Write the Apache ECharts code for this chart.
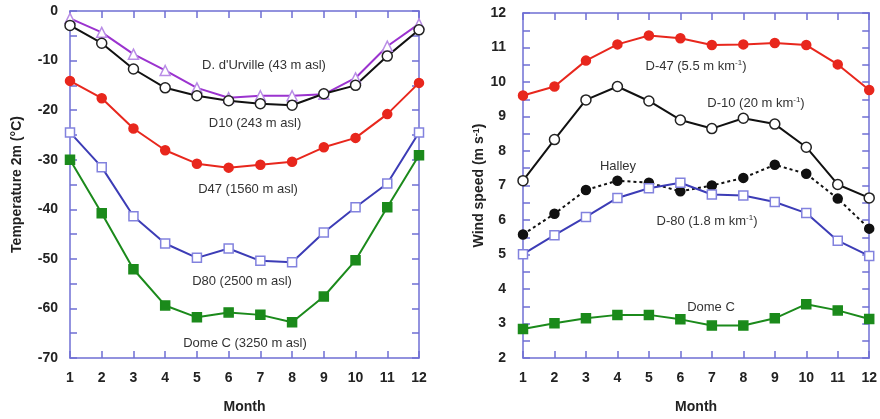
<!DOCTYPE html>
<html>
<head>
<meta charset="utf-8">
<script src="https://cdn.jsdelivr.net/npm/echarts@6/dist/echarts.min.js"></script>
<style>
  html, body { margin: 0; padding: 0; background: #fff; }
  #chart { width: 880px; height: 419px; }
</style>
</head>
<body>
<div id="chart"></div>
<script>
// Months on the horizontal axis of both panels
const months = [1, 2, 3, 4, 5, 6, 7, 8, 9, 10, 11, 12];

// Monthly mean 2 m temperature (°C)
const tempDdUrville = [-1.5, -4.3, -8.7, -12.0, -15.5, -17.5, -17.1, -17.1, -16.8, -13.5, -7.1, -2.6];
const tempD10       = [-2.9, -6.5, -11.7, -15.5, -17.1, -18.1, -18.7, -19.0, -16.7, -15.0, -9.1, -3.8];
const tempD47       = [-14.1, -17.6, -23.7, -28.1, -30.8, -31.6, -31.0, -30.4, -27.5, -25.6, -20.8, -14.5];
const tempD80       = [-24.5, -31.5, -41.4, -46.9, -49.8, -47.9, -50.4, -50.7, -44.7, -39.6, -34.8, -24.5];
const tempDomeC     = [-30.0, -40.8, -52.1, -59.4, -61.8, -60.8, -61.3, -62.8, -57.6, -50.3, -39.6, -29.1];

// Monthly mean wind speed (m s-1)
const windD47    = [9.61, 9.87, 10.62, 11.09, 11.35, 11.27, 11.07, 11.09, 11.13, 11.07, 10.51, 9.77];
const windD10    = [7.14, 8.33, 9.48, 9.87, 9.45, 8.90, 8.65, 8.95, 8.78, 8.11, 7.03, 6.64];
const windHalley = [5.58, 6.18, 6.87, 7.14, 7.08, 6.83, 7.00, 7.22, 7.60, 7.34, 6.62, 5.75];
const windD80    = [5.01, 5.56, 6.09, 6.64, 6.92, 7.08, 6.74, 6.71, 6.52, 6.20, 5.40, 4.96];
const windDomeC  = [2.84, 3.01, 3.15, 3.25, 3.25, 3.12, 2.94, 2.94, 3.15, 3.56, 3.38, 3.13];

const frame = '#6f6fd4';
const labelFont = 'Liberation Sans, Arial, sans-serif';

const pairs = vals => months.map((m, i) => [m, vals[i]]);

const tickStyle = { show: true, inside: true, length: 7, lineStyle: { color: frame, width: 1.5 } };
const lineAxis = { show: true, onZero: false, lineStyle: { color: frame, width: 1.5 } };
const boldLabel = { fontFamily: labelFont, fontWeight: 'bold', fontSize: 14, color: '#222' };

function xAxes(gridIndex) {
  return [
    {
      gridIndex, type: 'value', min: 1, max: 12, interval: 1, position: 'bottom',
      axisLine: lineAxis, axisTick: tickStyle, splitLine: { show: false },
      axisLabel: Object.assign({ margin: 13 }, boldLabel),
      name: 'Month', nameLocation: 'middle', nameGap: 42,
      nameTextStyle: { fontFamily: labelFont, fontWeight: 'bold', fontSize: 14, color: '#222' }
    },
    {
      gridIndex, type: 'value', min: 1, max: 12, interval: 1, position: 'top',
      axisLine: lineAxis, axisTick: tickStyle, splitLine: { show: false },
      axisLabel: { show: false }
    }
  ];
}

function yAxes(gridIndex, min, max, interval, margin, name, nameGap) {
  return [
    {
      gridIndex, type: 'value', min, max, interval, position: 'left',
      axisLine: lineAxis, axisTick: tickStyle,
      minorTick: { show: true, splitNumber: 2, length: 7, lineStyle: { color: frame, width: 1.5 } },
      splitLine: { show: false }, minorSplitLine: { show: false },
      axisLabel: Object.assign({ margin }, boldLabel),
      name, nameLocation: 'middle', nameGap, nameRotate: 90,
      nameTextStyle: {
        fontFamily: labelFont, fontWeight: 'bold', fontSize: 14, color: '#222',
        rich: {
          b: { fontFamily: labelFont, fontWeight: 'bold', fontSize: 14, color: '#222' },
          s: { fontFamily: labelFont, fontWeight: 'bold', fontSize: 9, color: '#222', verticalAlign: 'top', padding: [0, 0, 6, 0] }
        }
      }
    },
    {
      gridIndex, type: 'value', min, max, interval, position: 'right',
      axisLine: lineAxis, axisTick: tickStyle,
      minorTick: { show: true, splitNumber: 2, length: 7, lineStyle: { color: frame, width: 1.5 } },
      splitLine: { show: false }, minorSplitLine: { show: false },
      axisLabel: { show: false }
    }
  ];
}

function series(name, vals, axisIdx, opts) {
  return {
    name, type: 'line', data: pairs(vals),
    xAxisIndex: axisIdx, yAxisIndex: axisIdx,
    symbol: opts.symbol, symbolSize: opts.size || 10, showSymbol: true,
    lineStyle: { color: opts.line, width: 2, type: opts.dash || 'solid' },
    itemStyle: { color: opts.fill, borderColor: opts.border, borderWidth: opts.bw === undefined ? 1.5 : opts.bw },
    emphasis: { disabled: true }, animation: false, z: opts.z || 2
  };
}

const red = '#e8271d', purple = '#9b33cf', blue = '#3c3cb6', green = '#1b8a1b', black = '#111';

const option = {
  backgroundColor: '#fff',
  animation: false,
  grid: [
    { left: 70, top: 11, width: 349, height: 349 },
    { left: 523, top: 13, width: 348, height: 347 }
  ],
  xAxis: [...xAxes(0), ...xAxes(1)],
  yAxis: [
    ...yAxes(0, -70, 0, 10, 12, 'Temperature 2m (°C)', 46),
    ...yAxes(1, 2, 12, 1, 17, '{b|Wind speed (m s}{s|-1}{b|)}', 34)
  ],
  series: [
    series("D. d'Urville", tempDdUrville, 0, { symbol: 'triangle', line: purple, fill: '#fff', border: '#b98de6', size: 10 }),
    series('D10', tempD10, 0, { symbol: 'circle', line: black, fill: '#fff', border: '#222', size: 10 }),
    series('D47', tempD47, 0, { symbol: 'circle', line: red, fill: red, border: red, size: 9 }),
    series('D80', tempD80, 0, { symbol: 'rect', line: blue, fill: '#fff', border: '#8282de', size: 9 }),
    series('Dome C', tempDomeC, 0, { symbol: 'rect', line: green, fill: green, border: green, size: 9 }),

    series('D-47', windD47, 2, { symbol: 'circle', line: red, fill: red, border: red, size: 9 }),
    series('D-10', windD10, 2, { symbol: 'circle', line: black, fill: '#fff', border: '#222', size: 10 }),
    series('Halley', windHalley, 2, { symbol: 'circle', line: black, fill: black, border: black, size: 9, dash: [3, 3] }),
    series('D-80', windD80, 2, { symbol: 'rect', line: blue, fill: '#fff', border: '#8282de', size: 9 }),
    series('Dome C wind', windDomeC, 2, { symbol: 'rect', line: green, fill: green, border: green, size: 9 })
  ],
  graphic: []
};

// Station annotations inside the panels
const note = (x, y, text) => ({
  type: 'text', x, y, silent: true,
  style: {
    text, align: 'center', verticalAlign: 'middle',
    font: '13px ' + labelFont, fill: '#333',
    rich: {
      a: { fontFamily: labelFont, fontSize: 13, color: '#333' },
      s: { fontFamily: labelFont, fontSize: 8, color: '#333', verticalAlign: 'top', padding: [0, 0, 6, 0] }
    }
  }
});
option.graphic = [
  note(264, 65, "D. d'Urville (43 m asl)"),
  note(255, 123, 'D10 (243 m asl)'),
  note(248, 189, 'D47 (1560 m asl)'),
  note(242, 281, 'D80 (2500 m asl)'),
  note(245, 343, 'Dome C (3250 m asl)'),
  note(696, 66, '{a|D-47 (5.5 m km}{s|-1}{a|)}'),
  note(756, 103, '{a|D-10 (20 m km}{s|-1}{a|)}'),
  note(618, 166, 'Halley'),
  note(707, 221, '{a|D-80 (1.8 m km}{s|-1}{a|)}'),
  note(711, 307, 'Dome C')
];

const chart = echarts.init(document.getElementById('chart'), null, { renderer: 'canvas' });
chart.setOption(option);
</script>
</body>
</html>
